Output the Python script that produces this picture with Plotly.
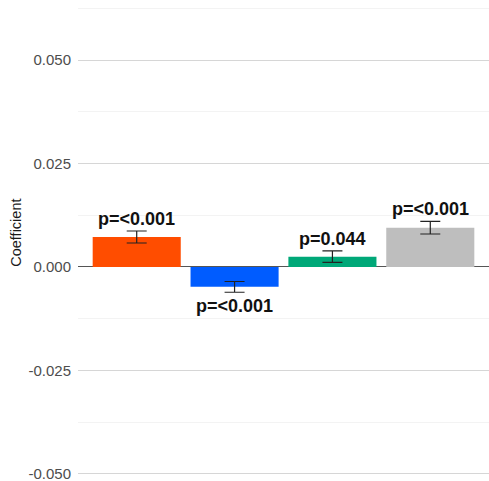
import plotly.graph_objects as go

# Regression coefficients with standard errors and p-value labels
groups = [1, 2, 3, 4]
coefficients = [0.00725, -0.0048, 0.0025, 0.0095]
errors = [0.00145, 0.0013, 0.00137, 0.00153]
p_labels = ["p=<0.001", "p=<0.001", "p=0.044", "p=<0.001"]
bar_colors = ["#FF4D00", "#005CFF", "#00A878", "#BEBEBE"]

y_ticks = [-0.05, -0.025, 0.0, 0.025, 0.05]
y_ticktext = ["-0.050", "-0.025", "0.000", "0.025", "0.050"]

fig = go.Figure()
fig.add_trace(go.Bar(
    x=groups,
    y=coefficients,
    width=0.9,
    marker=dict(color=bar_colors, line=dict(width=0)),
    error_y=dict(type="data", array=errors, visible=True,
                 color="#222222", thickness=1.2, width=10),
    showlegend=False,
))

# p-value labels sit just beyond the end of each error bar
annotations = []
for g, c, e, lab in zip(groups, coefficients, errors, p_labels):
    if c >= 0:
        y, shift = c + e, 12
    else:
        y, shift = c - e, -14
    annotations.append(dict(
        x=g, y=y, xref="x", yref="y", text=f"<b>{lab}</b>",
        showarrow=False, yanchor="middle", yshift=shift,
        font=dict(family="Liberation Sans", size=18, color="#111111"),
    ))

annotations.append(dict(
    x=-0.151, y=0.516, xref="paper", yref="paper", text="Coefficient",
    textangle=-90, showarrow=False, xanchor="center", yanchor="middle",
    font=dict(family="Liberation Sans", size=14.5, color="#1A1A1A"),
))

fig.update_layout(
    width=489, height=481,
    margin=dict(l=78, r=0, t=0, b=0),
    paper_bgcolor="white", plot_bgcolor="white",
    font=dict(family="Liberation Sans"),
    annotations=annotations,
    bargap=0.1,
)
fig.update_xaxes(
    range=[0.4, 4.6], showgrid=False, zeroline=False,
    showticklabels=False, ticks="", showline=False,
)
fig.update_yaxes(
    range=[-0.0517, 0.0645],
    tickvals=y_ticks, ticktext=y_ticktext,
    tickfont=dict(family="Liberation Sans", size=15, color="#4D4D4D"),
    ticks="", ticklabelstandoff=6, ticklabeloverflow="allow",
    showgrid=True, gridcolor="#D6D6D6", gridwidth=1.3,
    minor=dict(dtick=0.0125, tick0=0, showgrid=True,
               gridcolor="#F3F3F3", gridwidth=1),
    zeroline=True, zerolinecolor="#555555", zerolinewidth=1.3,
    showline=False,
)

fig.write_html("out.html")
